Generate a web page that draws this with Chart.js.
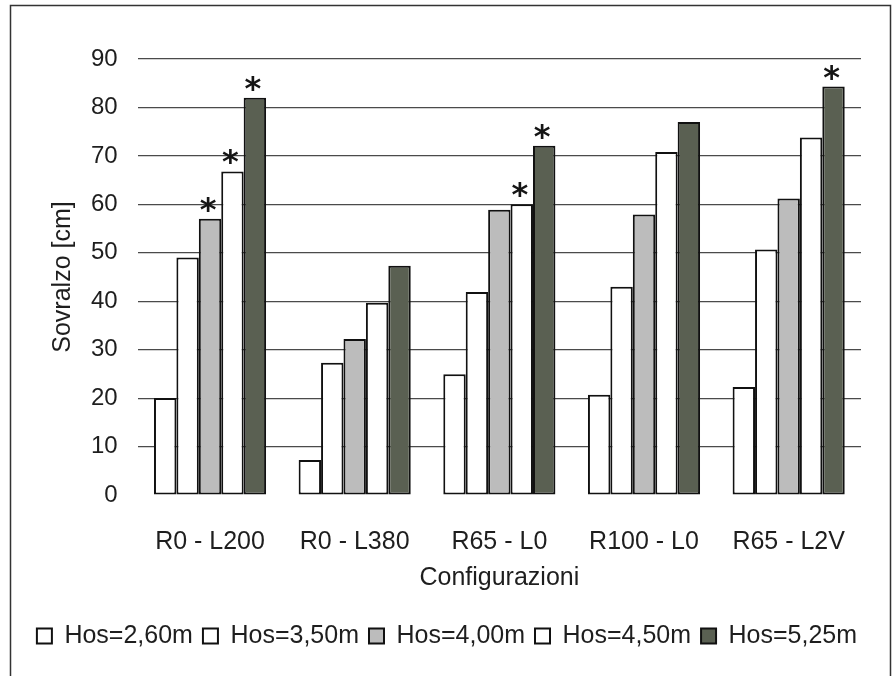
<!DOCTYPE html>
<html>
<head>
<meta charset="utf-8">
<script src="https://cdn.jsdelivr.net/npm/chart.js@4"></script>
<style>
 html,body{margin:0;padding:0;background:#fff;}
 canvas{display:block;}
</style>
</head>
<body>
<canvas id="chart" width="894" height="676"></canvas>
<script>
const configurazioni=["R0 - L200","R0 - L380","R65 - L0","R100 - L0","R65 - L2V"];
const serie=["Hos=2,60m","Hos=3,50m","Hos=4,00m","Hos=4,50m","Hos=5,25m"];
const hos260=[20,7.2,24.9,20.7,22.3];
const hos350=[49,27.3,41.9,43,50.7];
const hos400=[57,32.2,58.9,57.9,61.2];
const hos450=[66.8,39.7,60,70.8,73.8];
const hos525=[82,47.3,72.1,77,84.3];
// asterischi (differenza significativa)
const star400=[1,0,0,0,0];
const star450=[1,0,1,0,0];
const star525=[1,0,1,0,1];
const yTicks=[0,10,20,30,40,50,60,70,80,90];

const riempi=["#ffffff","#ffffff","#bcbcbc","#ffffff","#5a6052"];
const valori=[hos260,hos350,hos400,hos450,hos525];
const stelle=[null,null,star400,star450,star525];

const font="'Liberation Sans', Arial, sans-serif";
const ink="#1e1e1e";

const cornice={
 id:"cornice",
 beforeDraw(c){
  const ctx=c.ctx;
  ctx.save();
  ctx.fillStyle="#fff";
  ctx.fillRect(0,0,c.width,c.height);
  ctx.strokeStyle="#333";
  ctx.lineWidth=1.5;
  ctx.strokeRect(10.5,5.5,880,700);
  ctx.restore();
 },
 afterLayout(c){
  // legenda centrata su tutta la larghezza
  c.legend.left=0;
  c.legend.right=c.width;
 }
};

const asterischi={
 id:"asterischi",
 afterDatasetsDraw(c){
  const ctx=c.ctx;
  ctx.save();
  ctx.fillStyle="#151515";
  ctx.font="bold 32px 'DejaVu Sans', sans-serif";
  ctx.textAlign="center";
  ctx.textBaseline="alphabetic";
  const m=ctx.measureText("*");
  const desc=m.actualBoundingBoxDescent; // negativo: glifo sopra la baseline
  stelle.forEach((s,d)=>{
   if(!s) return;
   const meta=c.getDatasetMeta(d);
   s.forEach((f,i)=>{
    if(!f) return;
    const bar=meta.data[i];
    ctx.fillText("*",bar.x-2,bar.y-7-desc);
   });
  });
  ctx.restore();
 }
};

new Chart(document.getElementById("chart"),{
 type:"bar",
 data:{
  labels:configurazioni,
  datasets:serie.map((s,i)=>({
   label:s,
   data:valori[i],
   backgroundColor:riempi[i],
   borderColor:"#111",
   borderWidth:2,
   borderSkipped:false,
   barPercentage:1,
   categoryPercentage:0.775
  }))
 },
 options:{
  responsive:false,
  animation:false,
  devicePixelRatio:1,
  layout:{padding:{left:0,right:33,top:59,bottom:17.5}},
  plugins:{
   tooltip:{enabled:false},
   legend:{
    position:"bottom",
    labels:{
     color:ink,
     font:{family:font,size:25},
     boxWidth:15,
     boxHeight:15,
     padding:10
    }
   }
  },
  scales:{
   x:{
    grid:{display:false},
    border:{display:false},
    ticks:{color:ink,font:{family:font,size:25},padding:24},
    title:{display:true,text:"Configurazioni",color:ink,font:{family:font,size:25},padding:{top:0,bottom:20}},
    afterFit(s){s.height=118.5;}
   },
   y:{
    min:0,max:90,
    afterBuildTicks(s){s.ticks=yTicks.map(v=>({value:v}));},
    grid:{drawTicks:false,color:c=>c.tick&&c.tick.value===0?"rgba(0,0,0,0)":"#4a4a4a",lineWidth:1.2},
    border:{display:false},
    ticks:{color:ink,font:{family:font,size:24},padding:20},
    title:{display:true,text:"Sovralzo [cm]",color:ink,font:{family:font,size:25},padding:{top:48,bottom:0}},
    afterFit(s){s.width=137.7;}
   }
  }
 },
 plugins:[cornice,asterischi]
});
</script>
</body>
</html>
